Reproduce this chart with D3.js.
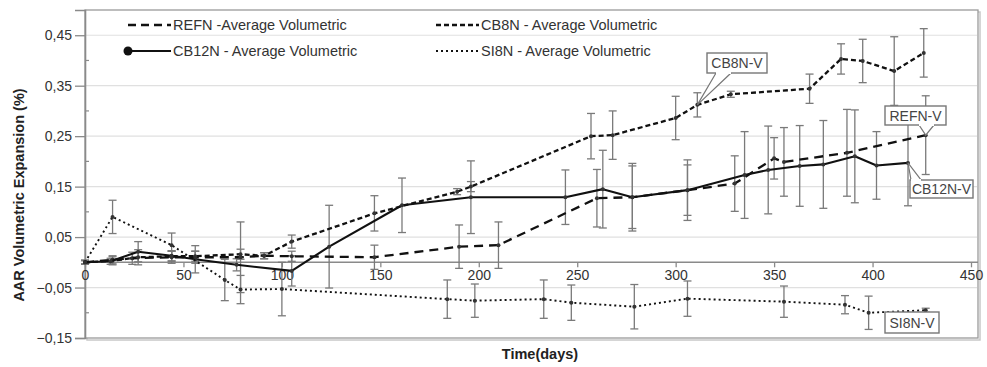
<!DOCTYPE html>
<html><head><meta charset="utf-8">
<script src="https://cdn.jsdelivr.net/npm/d3@7"></script>
<style>
html,body{margin:0;padding:0;background:#fff;}
svg{display:block;font-family:"Liberation Sans",Arial,sans-serif;}
</style></head>
<body><svg id="c" width="987" height="367"></svg>
<script>
// ---- data ----
const refnDays = [0, 14, 24, 44, 56, 79, 91, 105, 147, 190, 210, 260, 278, 306, 330, 350, 355, 387, 427];
const refnVals = [0, 0.005, 0.008, 0.010, 0.010, 0.010, 0.013, 0.012, 0.010, 0.031, 0.034, 0.127, 0.129, 0.143, 0.156, 0.206, 0.199, 0.217, 0.252];
const refnErr  = [0.004, 0.008, 0.012, 0.012, 0.012, 0.070, 0.006, 0.010, 0.024, 0.043, 0.046, 0.057, 0.067, 0.060, 0.055, 0.041, 0.068, 0.086, 0.078];

const cb8nDays = [0, 14, 27, 44, 56, 79, 91, 105, 147, 189, 196, 257, 268, 300, 311, 328, 368, 384, 395, 411, 426];
const cb8nVals = [0, 0.003, 0.010, 0.012, 0.012, 0.016, 0.013, 0.041, 0.097, 0.140, 0.150, 0.250, 0.252, 0.286, 0.312, 0.333, 0.344, 0.403, 0.399, 0.379, 0.415];
const cb8nErr  = [0.004, 0.008, 0.015, 0.010, 0.010, 0.010, 0.006, 0.013, 0.035, 0.006, 0.010, 0.045, 0.048, 0.043, 0.024, 0.006, 0.029, 0.030, 0.043, 0.068, 0.048];

const cb12nDays = [0, 13, 27, 44, 56, 77, 105, 124, 161, 196, 244, 263, 278, 306, 335, 347, 363, 375, 391, 402, 418];
const cb12nVals = [0, 0.002, 0.021, 0.013, 0.006, -0.005, -0.017, 0.031, 0.113, 0.129, 0.129, 0.145, 0.129, 0.143, 0.173, 0.183, 0.191, 0.194, 0.210, 0.192, 0.197];
const cb12nErr  = [0.004, 0.006, 0.020, 0.010, 0.027, 0.012, 0.030, 0.082, 0.054, 0.072, 0.054, 0.077, 0.062, 0.050, 0.086, 0.087, 0.080, 0.087, 0.092, 0.067, 0.085];

const si8nDays = [0, 14, 44, 71, 79, 100, 184, 198, 233, 247, 279, 306, 355, 386, 398, 427];
const si8nVals = [0, 0.090, 0.034, -0.035, -0.054, -0.053, -0.073, -0.076, -0.073, -0.080, -0.088, -0.072, -0.078, -0.084, -0.100, -0.095];
const si8nErr  = [0.003, 0.033, 0.024, 0.041, 0.028, 0.053, 0.038, 0.033, 0.038, 0.035, 0.044, 0.035, 0.031, 0.018, 0.033, 0.004];

const xTicks = [0, 50, 100, 150, 200, 250, 300, 350, 400, 450];
const yTicks = [-0.15, -0.05, 0.05, 0.15, 0.25, 0.35, 0.45];
const yMinor = [-0.1, 0, 0.1, 0.2, 0.3, 0.4];
const legendNames = ["REFN -Average Volumetric", "CB8N - Average Volumetric", "CB12N - Average Volumetric", "SI8N - Average Volumetric"];
const calloutNames = ["REFN-V", "CB8N-V", "CB12N-V", "SI8N-V"];

// ---- build ----
const zip = (d, v, e) => d.map((x, i) => ({x, y: v[i], e: e[i]}));
const series = [
  {name: legendNames[0], pts: zip(refnDays, refnVals, refnErr), dash: "9,6", w: 2.3},
  {name: legendNames[1], pts: zip(cb8nDays, cb8nVals, cb8nErr), dash: "5,3", w: 2.3},
  {name: legendNames[2], pts: zip(cb12nDays, cb12nVals, cb12nErr), dash: null, w: 2.1},
  {name: legendNames[3], pts: zip(si8nDays, si8nVals, si8nErr), dash: "2,3", w: 1.9}
];

const svg = d3.select("#c");
const x = d3.scaleLinear().domain([0, 450]).range([85, 971]);
const y = d3.scaleLinear().domain([-0.15, 0.5]).range([338, 10]);
const fmt = v => d3.format(".2f")(v).replace(".", ",");

// frame shadow + frame
svg.append("rect").attr("x", 87).attr("y", 12).attr("width", 978 - 85).attr("height", 338 - 10)
  .attr("fill", "none").attr("stroke", "#c8c8c8").attr("stroke-width", 1.5);
svg.append("rect").attr("x", 85).attr("y", 10).attr("width", 978 - 85).attr("height", 338 - 10)
  .attr("fill", "#fff").attr("stroke", "#9a9a9a").attr("stroke-width", 1.3);

// gridlines
svg.append("g").selectAll("line").data(yTicks.filter(v => v > -0.15)).join("line")
  .attr("x1", 86).attr("x2", 977).attr("y1", d => y(d)).attr("y2", d => y(d))
  .attr("stroke", "#e0e0e0").attr("stroke-width", 1.2);

// y axis
const yAxis = d3.axisLeft(y).tickValues(yTicks).tickSize(10).tickFormat(fmt);
const gy = svg.append("g").attr("transform", "translate(85,0)").call(yAxis);
gy.select(".domain").attr("stroke", "#8a8a8a").attr("stroke-width", 1.6);
gy.selectAll(".tick line").attr("stroke", "#8a8a8a").attr("stroke-width", 1.3);
gy.selectAll(".tick text").attr("font-size", 14).attr("fill", "#333").attr("x", -13)
  .attr("font-family", "Liberation Sans, Arial, sans-serif");
svg.append("g").selectAll("line").data(yMinor).join("line")
  .attr("x1", 85).attr("x2", 89).attr("y1", d => y(d)).attr("y2", d => y(d))
  .attr("stroke", "#8a8a8a").attr("stroke-width", 1.2);

// x axis at zero
const xAxis = d3.axisBottom(x).tickValues(xTicks).tickSize(5).tickFormat(d3.format("d"));
const gx = svg.append("g").attr("transform", `translate(0,${y(0)})`).call(xAxis);
gx.select(".domain").attr("stroke", "#8a8a8a").attr("stroke-width", 1.6).attr("d", `M85,0H978`);
gx.selectAll(".tick line").attr("stroke", "#8a8a8a").attr("stroke-width", 1.3);
gx.selectAll(".tick text").attr("font-size", 14).attr("fill", "#333").attr("y", 8)
  .attr("font-family", "Liberation Sans, Arial, sans-serif");

// error bars
const eb = svg.append("g").attr("stroke", "#7a7a7a").attr("stroke-width", 1.3);
series.forEach(s => {
  s.pts.forEach(p => {
    const cx = x(p.x), y1 = y(p.y + p.e), y2 = y(p.y - p.e);
    eb.append("line").attr("x1", cx).attr("x2", cx).attr("y1", y1).attr("y2", y2);
    eb.append("line").attr("x1", cx - 4).attr("x2", cx + 4).attr("y1", y1).attr("y2", y1);
    eb.append("line").attr("x1", cx - 4).attr("x2", cx + 4).attr("y1", y2).attr("y2", y2);
  });
});

// lines
const line = d3.line().x(d => x(d.x)).y(d => y(d.y));
series.forEach(s => {
  svg.append("path").datum(s.pts).attr("d", line).attr("fill", "none")
    .attr("stroke", "#111").attr("stroke-width", s.w)
    .attr("stroke-dasharray", s.dash).attr("stroke-linejoin", "round");
  svg.append("g").selectAll("circle").data(s.pts).join("circle")
    .attr("cx", d => x(d.x)).attr("cy", d => y(d.y)).attr("r", 2).attr("fill", "#333");
});

// legend
const leg = [
  {s: series[0], lx: 128, ly: 25},
  {s: series[1], lx: 436, ly: 25},
  {s: series[2], lx: 128, ly: 51, dot: true},
  {s: series[3], lx: 436, ly: 51}
];
leg.forEach(l => {
  const len = 43;
  svg.append("line").attr("x1", l.lx).attr("x2", l.lx + len).attr("y1", l.ly).attr("y2", l.ly)
    .attr("stroke", "#111").attr("stroke-width", l.s.w)
    .attr("stroke-dasharray", l.s === series[0] ? "8,5" : l.s.dash);
  if (l.dot) svg.append("circle").attr("cx", l.lx).attr("cy", l.ly).attr("r", 4.5).attr("fill", "#111");
  svg.append("text").attr("x", l.lx + len + 2).attr("y", l.ly + 5).attr("font-size", 14.5)
    .attr("fill", "#333").text(l.s.name);
});

// callouts
function callout(label, pt, bx, by, bw, bh, base) {
  const g = svg.append("g");
  if (base) {
    g.append("path").attr("d", `M${base[0]},${base[1]}L${x(pt.x)},${y(pt.y)}L${base[2]},${base[3]}Z`)
      .attr("fill", "#fff").attr("stroke", "#777").attr("stroke-width", 1.2);
  }
  g.append("rect").attr("x", bx).attr("y", by).attr("width", bw).attr("height", bh)
    .attr("fill", "#fff").attr("stroke", "#777").attr("stroke-width", 1.4);
  if (base) {
    g.append("line").attr("x1", base[0]).attr("y1", base[1]).attr("x2", base[2]).attr("y2", base[3])
      .attr("stroke", "#fff").attr("stroke-width", 2);
  }
  g.append("text").attr("x", bx + bw / 2).attr("y", by + bh / 2 + 5).attr("text-anchor", "middle")
    .attr("font-size", 14).attr("fill", "#444").text(label);
}
const lastRefn = series[0].pts[series[0].pts.length - 1];
const cb8nPt = series[1].pts[14];
const lastCb12 = series[2].pts[series[2].pts.length - 1];
callout(calloutNames[1], cb8nPt, 707, 53, 60, 20, [716, 73, 731, 73]);
callout(calloutNames[0], lastRefn, 885, 106, 61, 19, [919, 125, 934, 125]);
callout(calloutNames[2], lastCb12, 910, 180, 63, 18, [911, 180, 921, 180]);
callout(calloutNames[3], null, 885, 312, 54, 21, null);

// axis titles
svg.append("text").attr("transform", "translate(24,195) rotate(-90)").attr("text-anchor", "middle")
  .attr("font-size", 14.5).attr("font-weight", "bold").attr("fill", "#222").text("AAR Volumetric Expansion (%)");
svg.append("text").attr("x", 540).attr("y", 359).attr("text-anchor", "middle")
  .attr("font-size", 14.5).attr("font-weight", "bold").attr("fill", "#222").text("Time(days)");
</script></body></html>
